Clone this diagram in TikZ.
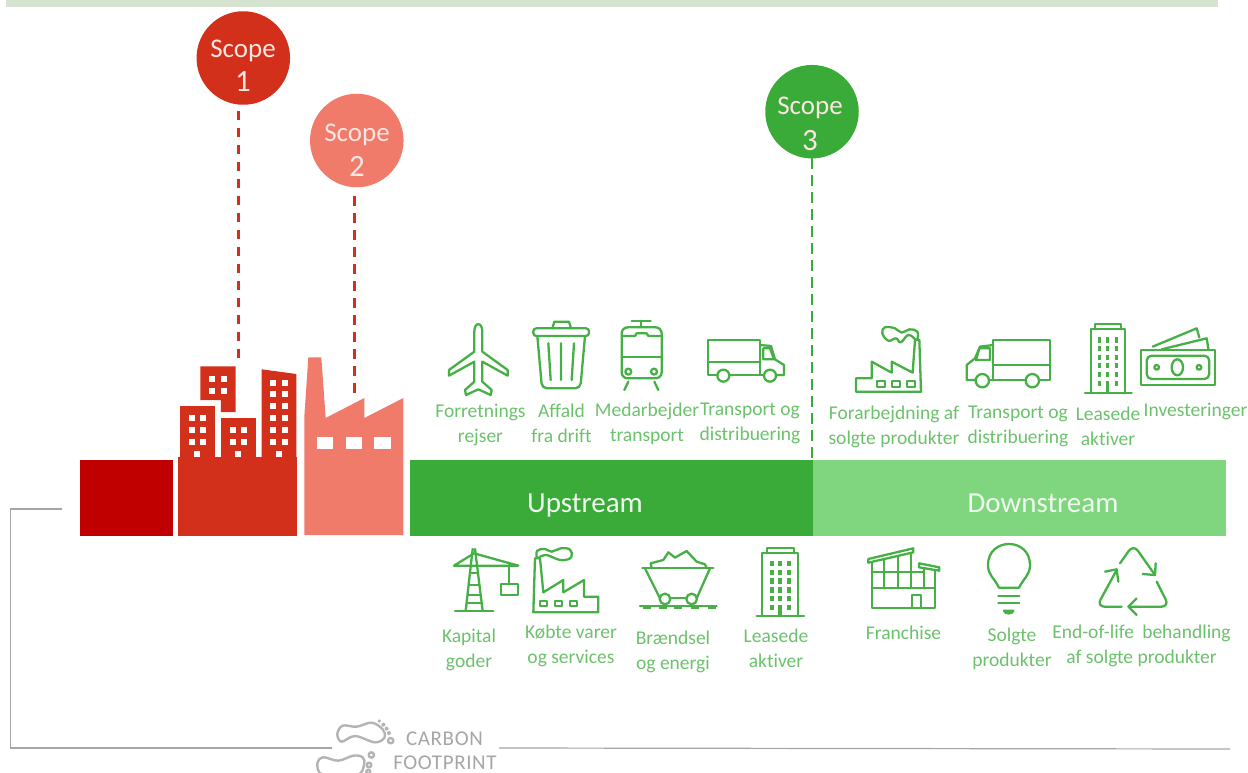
\documentclass[tikz,border=0pt]{standalone}
\usepackage{fontspec}
\setmainfont[Ligatures=NoCommon]{Carlito}
\definecolor{band}{HTML}{D5E3D0}
\definecolor{darkred}{HTML}{C00000}
\definecolor{cityred}{HTML}{D2301A}
\definecolor{salmon}{HTML}{F07B6A}
\definecolor{gup}{HTML}{3AAA38}
\definecolor{gdown}{HTML}{80D67E}
\definecolor{gicon}{HTML}{46B046}
\definecolor{glabel}{HTML}{6CC26C}
\definecolor{ltext}{HTML}{FBE6E2}
\definecolor{bartext}{HTML}{F0F9EF}
\definecolor{gline}{HTML}{A6A6A6}
\definecolor{gfoot}{HTML}{B4B4B4}
\tikzset{
  blockn/.style={inner sep=0pt,outer sep=0pt,minimum width=#1},
  scopec/.style={circle,inner sep=0pt,outer sep=0pt,minimum size=93.5pt},
  scopet/.style={anchor=base,inner sep=0pt,text=ltext,font=\fontsize{27}{34}\selectfont,align=center},
  scoped/.style={anchor=base,inner sep=0pt,text=ltext,font=\fontsize{31}{34}\selectfont},
  bart/.style={anchor=base,inner sep=0pt,text=bartext,font=\fontsize{29}{34}\selectfont},
  lab/.style={anchor=base,inner sep=0pt,text=glabel,align=center,font=\fontsize{19.5}{25}\selectfont},
  carbon/.style={anchor=base,inner sep=0pt,text=gline,font=\fontsize{21}{26}\selectfont\addfontfeature{LetterSpace=3}},
  dashr/.style={draw=cityred,line width=2.4pt,dash pattern=on 9.5pt off 7.5pt},
  dashg/.style={draw=gup,line width=2.2pt,dash pattern=on 11pt off 6pt},
  grayl/.style={draw=gline,line width=1.2pt},
  icon/.style={draw=gicon,line width=2.3pt,line join=round,line cap=round},
  wind/.style={fill=gicon,draw=none},
  foot/.style={draw=gfoot,line width=2.4pt,line join=round},
  zoomed/.style 2 args={x=0.33333pt,y=-0.33333pt,xshift=#1pt,yshift=-#2pt}
}
\begin{document}
\begin{tikzpicture}[x=1pt,y=-1pt]
\useasboundingbox (0,0) rectangle (1248,773);
\fill[white] (0,0) rectangle (1248,773);
\fill[band] (6,0) rectangle (1218,7);

% gray frame line
\coordinate (gA) at (62,509);
\coordinate (gB) at (10.5,509);
\coordinate (gC) at (10.5,748);
\coordinate (gD) at (332,748);
\coordinate (gE) at (499,748);
\coordinate (gF) at (1230,749);
\draw[grayl] (gA) -- (gB) -- (gC) -- (gD);
\draw[grayl] (gE) -- (gF);

% bars
\node[blockn=93pt,minimum height=76pt,fill=darkred] (bar0) at (126,498.3) {};
\node[blockn=403pt,minimum height=75.7pt,fill=gup] (barU) at (611.5,498.2) {};
\node[blockn=413pt,minimum height=76.5pt,fill=gdown] (barD) at (1019.5,497.8) {};
\node[bart] (tU) at (585,512.7) {Upstream};
\node[bart] (tD) at (1043,512.7) {Downstream};

% city + factory
\begin{scope}[zoomed={0}{300}]
  \fill[cityred] (535,470) rectangle (890,709);
  \fill[cityred] (541,318) rectangle (645,471);
  \fill[cityred] (663,354) rectangle (767,471);
  \fill[cityred] (785,208) -- (889,222) -- (889,471) -- (785,471) -- cycle;
  \fill[cityred] (601,199) -- (707,199) -- (707,336) -- (663,336) -- (663,300) -- (601,300) -- cycle;
  \foreach \x/\y in {636/236,671/236,636/272,671/272,
     575/354,610/354,575/390,610/390,575/427,610/427,592/462,
     698/390,732/390,698/427,732/427,715/462,
     819/250,854/250,819/282,854/282,819/318,854/318,819/354,854/354,819/390,854/390,819/427,854/427,837/462}
    \fill[white] (\x-9,\y-9) rectangle (\x+9,\y+9);
  \fill[salmon] (925,172) -- (964,172) -- (977,354) -- (1093,294) -- (1093,354) -- (1210,294) -- (1210,705) -- (913,705) -- (913,350) -- cycle;
  \foreach \x in {950,1037,1123}
    \fill[white] (\x,411) rectangle (\x+49,448);
  \coordinate (c1) at (716,178);
  \coordinate (c2) at (1063,292);
\end{scope}

% scope circles
\node[scopec,fill=cityred] (s1) at (243.3,58) {};
\node[scopec,fill=salmon] (s2) at (356.8,140.5) {};
\node[scopec,fill=gup] (s3) at (812,111.7) {};
\node[scopet] (ts1) at (243,57.7) {Scope};
\node[scoped] (td1) at (243,92) {1};
\node[scopet] (ts2) at (357,142) {Scope};
\node[scoped] (td2) at (357,176.5) {2};
\node[scopet] (ts3) at (810,115) {Scope};
\node[scoped] (td3) at (810,150) {3};
\coordinate (c3) at (812,460);
\draw[dashr,shorten <=6pt] (s1.south -| c1) -- (c1);
\draw[dashr,shorten <=9pt] (s2.south -| c2) -- (c2);
\draw[dashg] (s3.south) -- (c3);

% labels
\node[lab] (l1) at (480.5,442) {Forretnings\\rejser};
\node[lab] (l2) at (561.5,442) {Affald\\fra drift};
\node[lab] (l3) at (647,441) {Medarbejder\\transport};
\node[lab] (l4) at (750,440.5) {Transport og\\distribuering};
\node[lab] (l5) at (894,444) {Forarbejdning af\\solgte produkter};
\node[lab] (l6) at (1018,443) {Transport og\\distribuering};
\node[lab] (l7) at (1108,445.5) {Leasede\\aktiver};
\node[lab] (l8) at (1195.5,416.5) {Investeringer};
\node[lab] (l9) at (469,667) {Kapital\\goder};
\node[lab] (l10) at (571,663) {Købte varer\\og services};
\node[lab] (l11) at (673,669) {Brændsel\\og energi};
\node[lab] (l12) at (776,667) {Leasede\\aktiver};
\node[lab] (l13) at (903.5,639) {Franchise};
\node[lab] (l14) at (1012,666) {Solgte\\produkter};
\node[lab] (l15) at (1141.5,663) {End-of-life\hspace{0.2em} behandling\\af solgte produkter};

% carbon footprint
\node[carbon] (cf1) at (444.5,745.5) {CARBON};
\node[carbon] (cf2) at (445,769) {FOOTPRINT};
\begin{scope}[zoomed={300}{710}]
  \draw[foot] plot[smooth cycle,tension=0.6] coordinates {(112,72)(128,47)(170,50)(215,38)(248,58)(254,82)(225,97)(165,78)(125,95)};
  \foreach \x/\y/\r in {238/33/5.5,250/44/6,260/56/6,267/69/6}
    \fill[gfoot] (\x,\y) circle[radius=\r];
  \draw[foot] (272,92) circle[radius=8];
  \draw[foot] plot[smooth cycle,tension=0.6] coordinates {(52,160)(70,142)(115,152)(160,137)(188,142)(192,165)(170,195)(70,195)};
  \draw[foot] (214,135) circle[radius=8];
  \draw[foot] (207,165) circle[radius=7];
  \draw[foot] (205,185) circle[radius=6];
\end{scope}

% upper left icons
\begin{scope}[zoomed={420}{310}]
  % plane
  \draw[icon] (163,65) .. controls (163,35) and (187,35) .. (187,65) -- (187,125) -- (263,180) -- (263,197) -- (187,155) -- (187,215) -- (215,240) -- (212,255) -- (175,238) -- (138,255) -- (135,240) -- (163,215) -- (163,155) -- (87,197) -- (87,180) -- (163,125) -- cycle;
  % trash
  \draw[icon,rounded corners=3pt] (340,55) rectangle (507,78);
  \draw[icon] (397,55) -- (403,35) -- (447,35) -- (453,55);
  \draw[icon,rounded corners=5pt] (352,78) -- (366,235) -- (481,235) -- (495,78);
  \draw[icon] (385,100) -- (392,210) (423,100) -- (423,210) (462,100) -- (455,210);
  % tram
  \draw[icon,rounded corners=6pt] (605,205) -- (605,52) -- (725,52) -- (725,205) -- cycle;
  \draw[icon] (607,78) -- (645,78) -- (650,70) -- (680,70) -- (685,78) -- (725,78);
  \draw[icon] (605,140) -- (725,140);
  \draw[icon] (635,32) -- (692,32) (664,32) -- (664,52);
  \draw[icon] (625,185) circle[radius=9] (702,185) circle[radius=9];
  \draw[icon] (625,215) -- (613,240) (703,215) -- (715,240);
  % truck
  \draw[icon] (892,195) -- (865,195) -- (865,90) -- (1020,90) -- (1020,195);
  \draw[icon] (865,155) -- (1020,155);
  \draw[icon] (928,195) -- (1032,195);
  \draw[icon] (910,197) circle[radius=18] (1050,197) circle[radius=18];
  \draw[icon] (1068,195) -- (1092,195) -- (1092,165) -- (1065,148) -- (1053,108) -- (1020,105);
  \draw[icon] (1030,115) -- (1050,115) -- (1062,148) -- (1030,148) -- cycle;
\end{scope}

% upper right icons
\begin{scope}[zoomed={820}{310}]
  % factory
  \draw[icon] (108,245) -- (108,205) -- (155,205) -- (155,155) -- (215,188) -- (215,155) -- (278,188) -- (285,90) -- (298,90) -- (303,245) -- cycle;
  \draw[icon] (170,212) rectangle (195,230) (215,212) rectangle (240,230) (262,212) rectangle (285,230);
  \draw[icon] plot[smooth,tension=0.7] coordinates {(292,88)(292,65)(268,58)(245,68)(225,55)(195,52)(187,70)(205,92)(228,85)(242,97)(265,75)(285,88)};
  % truck
  \draw[icon] (520,210) -- (520,90) -- (690,90) -- (690,210) -- (657,210);
  \draw[icon] (520,165) -- (690,165);
  \draw[icon] (617,210) -- (507,210);
  \draw[icon] (637,212) circle[radius=20] (487,212) circle[radius=20];
  \draw[icon] (467,210) -- (440,210) -- (440,165) -- (465,145) -- (480,110) -- (520,105);
  \draw[icon] (478,115) -- (510,115) -- (510,150) -- (468,150) -- cycle;
  % building
  \draw[icon] (795,250) -- (935,250);
  \draw[icon] (812,250) -- (812,58) -- (915,58) -- (915,250);
  \draw[icon] (825,58) -- (825,43) -- (903,43) -- (903,58);
  \foreach \x in {838,863,890}
    \foreach \y in {90,116,142,167,194,221}
      \fill[wind] (\x-5,\y-8) rectangle (\x+5,\y+8);
  \fill[wind] (858,222) rectangle (868,250);
  % money
  \draw[icon] (962,120) rectangle (1185,225);
  \draw[icon,rounded corners=5pt] (980,137) rectangle (1168,207);
  \draw[icon] (1072,172) ellipse[x radius=17,y radius=24];
  \draw[icon] (1010,172) circle[radius=7] (1137,172) circle[radius=7];
  \draw[icon] (998,110) -- (1130,55) -- (1138,82);
  \draw[icon] (1025,118) -- (1160,85) -- (1165,116);
\end{scope}

% lower left icons
\begin{scope}[zoomed={430}{535}]
  % crane
  \draw[icon] (75,228) -- (190,228);
  \draw[icon] (107,228) -- (128,42) (158,228) -- (135,42);
  \draw[icon] (72,92) -- (265,92) (72,92) -- (132,55) -- (265,92);
  \draw[icon] (122,115) -- (143,115) (118,150) -- (148,150) (114,180) -- (151,180) (111,205) -- (154,205);
  \draw[icon] (238,92) -- (238,148);
  \draw[icon] (212,148) rectangle (265,180);
  % factory
  \draw[icon] (310,232) -- (315,70) -- (330,70) -- (340,172) -- (400,135) -- (400,172) -- (462,135) -- (462,185) -- (505,185) -- (505,232) -- cycle;
  \draw[icon] (330,197) rectangle (352,212) (375,197) rectangle (397,212) (420,197) rectangle (442,212);
  \draw[icon] plot[smooth,tension=0.7] coordinates {(320,66)(322,47)(345,42)(365,50)(392,40)(420,44)(424,66)(400,76)(375,70)(350,60)(328,66)};
  % cart
  \draw[icon] (637,100) -- (850,100);
  \draw[icon] (645,100) -- (690,190) (840,100) -- (800,190);
  \draw[icon] (721,190) -- (769,190);
  \draw[icon] (705,192) circle[radius=16] (785,192) circle[radius=16];
  \draw[icon] (665,100) -- (662,85) -- (700,75) -- (715,52) -- (735,68) -- (770,48) -- (800,80) -- (825,88) -- (830,100);
  \draw[icon] (630,212) -- (860,212);
  \foreach \x in {650,698,745,795,845}
    \fill[wind] (\x-12,212) rectangle (\x+12,222);
  % building
  \draw[icon] (980,243) -- (1122,243);
  \draw[icon] (995,243) -- (995,55) -- (1105,55) -- (1105,243);
  \draw[icon] (1010,55) -- (1010,40) -- (1092,40) -- (1092,55);
  \foreach \x in {1025,1050,1077}
    \foreach \y in {85,112,138,165,191,218}
      \fill[wind] (\x-6,\y-8) rectangle (\x+6,\y+8);
  \fill[wind] (1045,218) rectangle (1055,243);
\end{scope}

% lower right icons
\begin{scope}[zoomed={850}{535}]
  % franchise
  \draw[icon] (55,72) -- (190,40) -- (190,52) -- (55,83) -- cycle;
  \draw[icon] (207,85) -- (268,97) -- (268,107) -- (207,97) -- cycle;
  \draw[icon] (65,83) -- (65,218) -- (255,218) -- (255,105);
  \draw[icon] (65,112) -- (222,112) (65,160) -- (255,160);
  \draw[icon] (103,76) -- (103,160) (143,67) -- (143,160) (183,55) -- (183,160) (222,100) -- (222,160);
  \draw[icon] (187,218) -- (187,180) -- (213,180) -- (213,218);
  % bulb
  \draw[icon] (447,158) .. controls (432,128) and (414,120) .. (414,90) .. controls (414,6) and (540,6) .. (540,90) .. controls (540,120) and (522,128) .. (507,158) -- cycle;
  \draw[icon] (445,183) -- (508,183) (445,205) -- (508,205);
  \draw[icon] (462,227) -- (490,227) .. controls (488,238) and (464,238) .. (462,227) -- cycle;
  % recycle
  \draw[icon,rounded corners=8pt] (810,85) -- (850,28) -- (915,120);
  \draw[icon] (878,117) -- (915,120) -- (917,85);
  \draw[icon,rounded corners=8pt] (920,140) -- (958,215) -- (835,215);
  \draw[icon] (860,190) -- (835,215) -- (860,240);
  \draw[icon,rounded corners=8pt] (815,215) -- (740,215) -- (800,105);
  \draw[icon] (765,110) -- (800,103) -- (805,140);
\end{scope}
\end{tikzpicture}
\end{document}
